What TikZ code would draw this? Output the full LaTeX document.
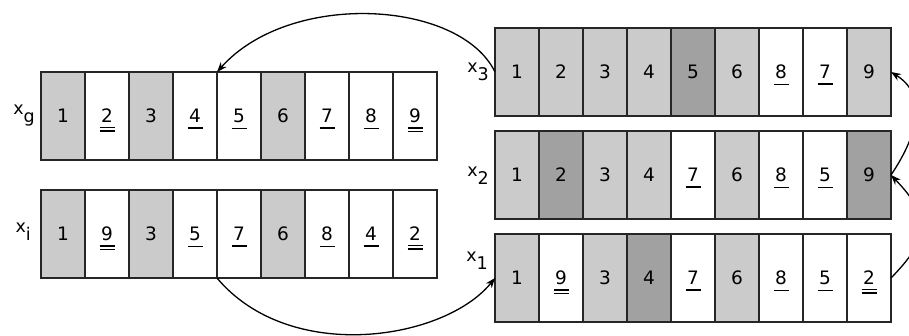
\documentclass[tikz,border=0pt]{standalone}
\usepackage{fontspec}
\setmainfont{DejaVu Sans}
\usetikzlibrary{arrows.meta}
\definecolor{lgc}{HTML}{CBCBCB}
\definecolor{dkc}{HTML}{A1A1A1}
\definecolor{linec}{HTML}{262626}
\newcommand\su[1]{\vtop{\hbox to 15pt{\hss#1\hss}\kern4.6pt\hrule height 1.4pt}}
\newcommand\du[1]{\vtop{\hbox to 15pt{\hss#1\hss}\kern4.4pt\hrule height 1.3pt\kern2pt\hrule height 1.3pt}}
\newcommand\lbl[2]{x\raisebox{-8pt}{#2}}
\newcommand\drawrow[4]{%
  \foreach \f/\t [count=\n] in {#4} {%
    \node[cell, fill=\f] (#1\n) at ({#2+(\n-1)*44},#3) {\t};}}
\tikzset{
  cell/.style={draw=linec, line width=1.4pt, minimum width=44pt, minimum height=88pt,
    inner sep=0pt, outer sep=0pt, anchor=north west, text height=13.5pt, text depth=0pt,
    font=\fontsize{18.5}{20}\selectfont},
  rowlabel/.style={anchor=base east, inner sep=0pt, font=\fontsize{17.5}{19}\selectfont},
  arr/.style={line width=1.3pt, -{Stealth[length=10pt,width=7.5pt]}},
}
\begin{document}
\begin{tikzpicture}[x=1pt, y=-1pt]
\useasboundingbox (0,0) rectangle (909,335);
\clip (0,0) rectangle (909,335);
% left rows
\drawrow{g}{41}{72}{lgc/1, white/\du{2}, lgc/3, white/\su{4}, white/\su{5}, lgc/6, white/\su{7}, white/\su{8}, white/\du{9}}
\drawrow{i}{41}{190}{lgc/1, white/\du{9}, lgc/3, white/\su{5}, white/\su{7}, lgc/6, white/\su{8}, white/\su{4}, white/\du{2}}
% right rows
\drawrow{t}{495}{28}{lgc/1, lgc/2, lgc/3, lgc/4, dkc/5, lgc/6, white/\su{8}, white/\su{7}, lgc/9}
\drawrow{m}{495}{131}{lgc/1, dkc/2, lgc/3, lgc/4, white/\su{7}, lgc/6, white/\su{8}, white/\su{5}, dkc/9}
\drawrow{o}{495}{234}{lgc/1, white/\du{9}, lgc/3, dkc/4, white/\su{7}, lgc/6, white/\su{8}, white/\su{5}, white/\du{2}}
% labels
\node[rowlabel] (lg) at (35,114) {\lbl{x}{g}};
\node[rowlabel] (li) at (31,232) {\lbl{x}{i}};
\node[rowlabel] (l3) at (489,72) {\lbl{x}{3}};
\node[rowlabel] (l2) at (489,176) {\lbl{x}{2}};
\node[rowlabel] (l1) at (488,261) {\lbl{x}{1}};
% arrows
\draw[arr] (t1.west) .. controls (460,0) and (290,-10) .. (g4.north east);
\draw[arr] (i4.south east) .. controls (290,365) and (445,340) .. (o1.west);
\draw[arr] (o9.east) .. controls (931,237) and (931,217) .. (m9.east);
\draw[arr] (m9.east) .. controls (918,135) and (928,95) .. (t9.east);
\end{tikzpicture}
\end{document}
